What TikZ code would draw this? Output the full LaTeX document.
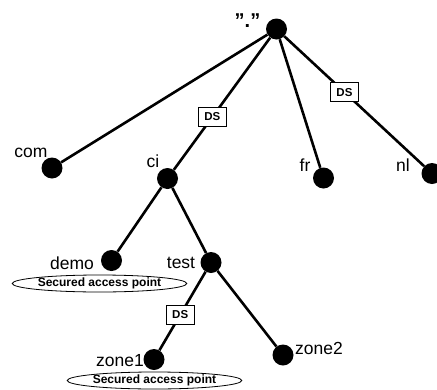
\documentclass[tikz,border=0pt]{standalone}
\usepackage{fontspec}
\setmainfont{Liberation Sans}
\usetikzlibrary{shapes.geometric}
\tikzset{
  dot/.style={circle,fill=black,minimum size=21pt,inner sep=0pt},
  lbl/.style={font=\fontsize{17.5}{18}\selectfont,inner sep=0pt},
  dsbox/.style={draw=black,fill=white,line width=0.8pt,font=\fontsize{11.5}{12}\selectfont\bfseries,minimum width=28pt,minimum height=19pt,inner sep=0pt},
  sap/.style={ellipse,draw=black,line width=0.8pt,font=\fontsize{12}{12}\selectfont\bfseries,minimum width=137pt,minimum height=17pt,inner sep=0pt},
  edge/.style={line width=2.6pt}
}
\begin{document}
\begin{tikzpicture}[x=1pt,y=-1pt]
\useasboundingbox (0,0) rectangle (437,389);
\node[dot] (root) at (276.5,29) {};
\node[dot] (com) at (52,168) {};
\node[dot] (ci) at (167.5,178.5) {};
\node[dot] (fr) at (323.5,178) {};
\node[dot] (nl) at (432,173.5) {};
\node[dot] (demo) at (111.5,260.5) {};
\node[dot] (test) at (211,262.5) {};
\node[dot] (zone1) at (154,359.5) {};
\node[dot] (zone2) at (283,355) {};

\draw[edge] (root) -- (com);
\draw[edge] (root) -- node[dsbox,pos=0.6] (ds1) {DS} (ci);
\draw[edge] (root) -- (fr);
\draw[edge] (root) -- node[dsbox,pos=0.43] (ds2) {DS} (nl);
\draw[edge] (ci) -- (demo);
\draw[edge] (ci) -- (test);
\draw[edge] (test) -- node[dsbox,pos=0.55] (ds3) {DS} (zone1);
\draw[edge] (test) -- (zone2);

\node[lbl,font=\fontsize{20}{20}\selectfont\bfseries,anchor=base] (rootl) at (247.5,27) {\char34.\char34};
\node[lbl] (coml) at (31,153) {com};
\node[lbl] (cil) at (153,161) {ci};
\node[lbl] (frl) at (305,165) {fr};
\node[lbl] (nll) at (403,165) {nl};
\node[lbl] (demol) at (72,263) {demo};
\node[lbl] (testl) at (181,263) {test};
\node[lbl] (zone1l) at (120,361) {zone1};
\node[lbl] (zone2l) at (319,348) {zone2};

\node[sap] (sap1) at (99.5,283.5) {Secured access point};
\node[sap] (sap2) at (154.5,380.5) {Secured access point};
\end{tikzpicture}
\end{document}
